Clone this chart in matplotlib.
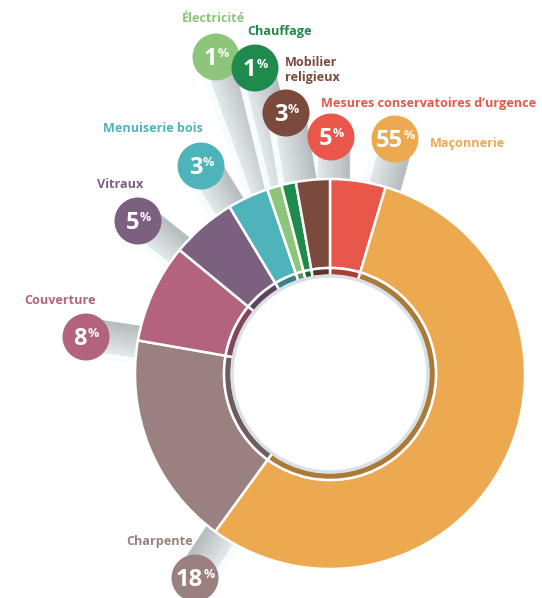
import matplotlib
matplotlib.use('Agg')
import matplotlib.pyplot as plt
import matplotlib.colors as mcolors
from matplotlib.patches import Circle, Polygon
import numpy as np

plt.rcParams['font.family'] = ['Open Sans', 'DejaVu Sans']

categories = ['Mesures conservatoires d\u2019urgence', 'Maçonnerie', 'Charpente', 'Couverture',
              'Vitraux', 'Menuiserie bois', 'Électricité', 'Chauffage', 'Mobilier\nreligieux']
shares = [4.6, 55.3, 17.7, 8.2, 5.4, 3.4, 1.2, 1.2, 2.8]
colors = ['#e8574a', '#eda94f', '#9b8080', '#b4637f', '#7c6080',
          '#4fb3bb', '#8dc57b', '#1e8a4c', '#7b4a3d']

# layout in pixels, y measured from the top of the image
W, H = 542, 598
bubbles = [(331, 137), (395, 139), (195, 578), (86, 337), (138, 221),
           (201, 166), (216, 57), (255, 68), (286, 113)]
labels_at = [(321, 103, 'left'), (430, 143, 'left'), (160, 542, 'center'),
             (60, 300, 'center'), (120, 185, 'center'), (153, 128, 'center'),
             (213, 18, 'center'), (279, 32, 'center'), (285, 70, 'left')]
cx, cy = 330, H - 374
R, R_in, rim = 195, 106, 8
br = 23.5

fig = plt.figure(figsize=(W / 100, H / 100), dpi=100)
ax = fig.add_axes([0, 0, 1, 1])

# shadow stems from each bubble to the ring
for (bx, by) in bubbles:
    p0 = np.array([bx, H - by], float)
    u = np.array([cx, cy]) - p0
    u /= np.linalg.norm(u)
    p1 = np.array([cx, cy]) - u * (R - 3)
    n = np.array([-u[1], u[0]])
    w = br * 0.8
    steps = 12
    for k in range(steps):
        a0 = -w + 2 * w * k / steps
        a1 = -w + 2 * w * (k + 1) / steps
        f = k / (steps - 1)
        g = 1.0 if f < 0.12 else 0.95 - 0.2 * f
        col = (g - 0.03, g - 0.01, g)
        ax.add_patch(Polygon([p0 + n * a0, p0 + n * a1, p1 + n * a1, p1 + n * a0],
                             closed=True, fc=col, ec=col, lw=0.6, zorder=1))

wedges, _ = ax.pie(shares, colors=colors, startangle=90, counterclock=False,
                   radius=R, center=(cx, cy),
                   wedgeprops=dict(width=R - R_in, edgecolor='white', linewidth=1.8))
for wd in wedges:
    wd.set_zorder(2)

dark = [tuple(np.array(mcolors.to_rgb(c)) * 0.72) for c in colors]
inner, _ = ax.pie(shares, colors=dark, startangle=90, counterclock=False,
                  radius=R_in, center=(cx, cy),
                  wedgeprops=dict(width=rim, edgecolor='white', linewidth=1.8))
for wd in inner:
    wd.set_zorder(3)
ax.add_patch(Circle((cx, cy), R_in - rim, fc='white', ec='#d9e1e5', lw=2.5, zorder=4))

fig.canvas.draw()
renderer = fig.canvas.get_renderer()

num_fs, pct_fs = 17, 9
cap = 0.714 * num_fs * 100 / 72
cap_p = 0.714 * pct_fs * 100 / 72
for (bx, by), v, c in zip(bubbles, shares, colors):
    ax.add_patch(Circle((bx, H - by), br, fc=c, ec='none', zorder=5))
    tn = ax.text(0, 0, f'{v:.0f}', fontsize=num_fs, fontweight='bold', color='white',
                 ha='left', va='baseline', zorder=6)
    tp = ax.text(0, 0, '%', fontsize=pct_fs, fontweight='bold', color='white',
                 ha='left', va='baseline', zorder=6)
    wn = tn.get_window_extent(renderer).width
    wp = tp.get_window_extent(renderer).width
    x0 = bx - (wn + wp) / 2
    base = H - by - cap / 2
    tn.set_position((x0, base))
    tp.set_position((x0 + wn + 0.5, base + cap - cap_p))

for name, (lx, ly, ha), c in zip(categories, labels_at, colors):
    ax.text(lx, H - ly, name, fontsize=9.1, fontweight='bold', color=c,
            ha=ha, va='center', linespacing=1.1, zorder=6)

ax.set_xlim(0, W)
ax.set_ylim(0, H)
ax.set_aspect('equal')
ax.axis('off')
fig.savefig('out.png', dpi=100, facecolor='white')
